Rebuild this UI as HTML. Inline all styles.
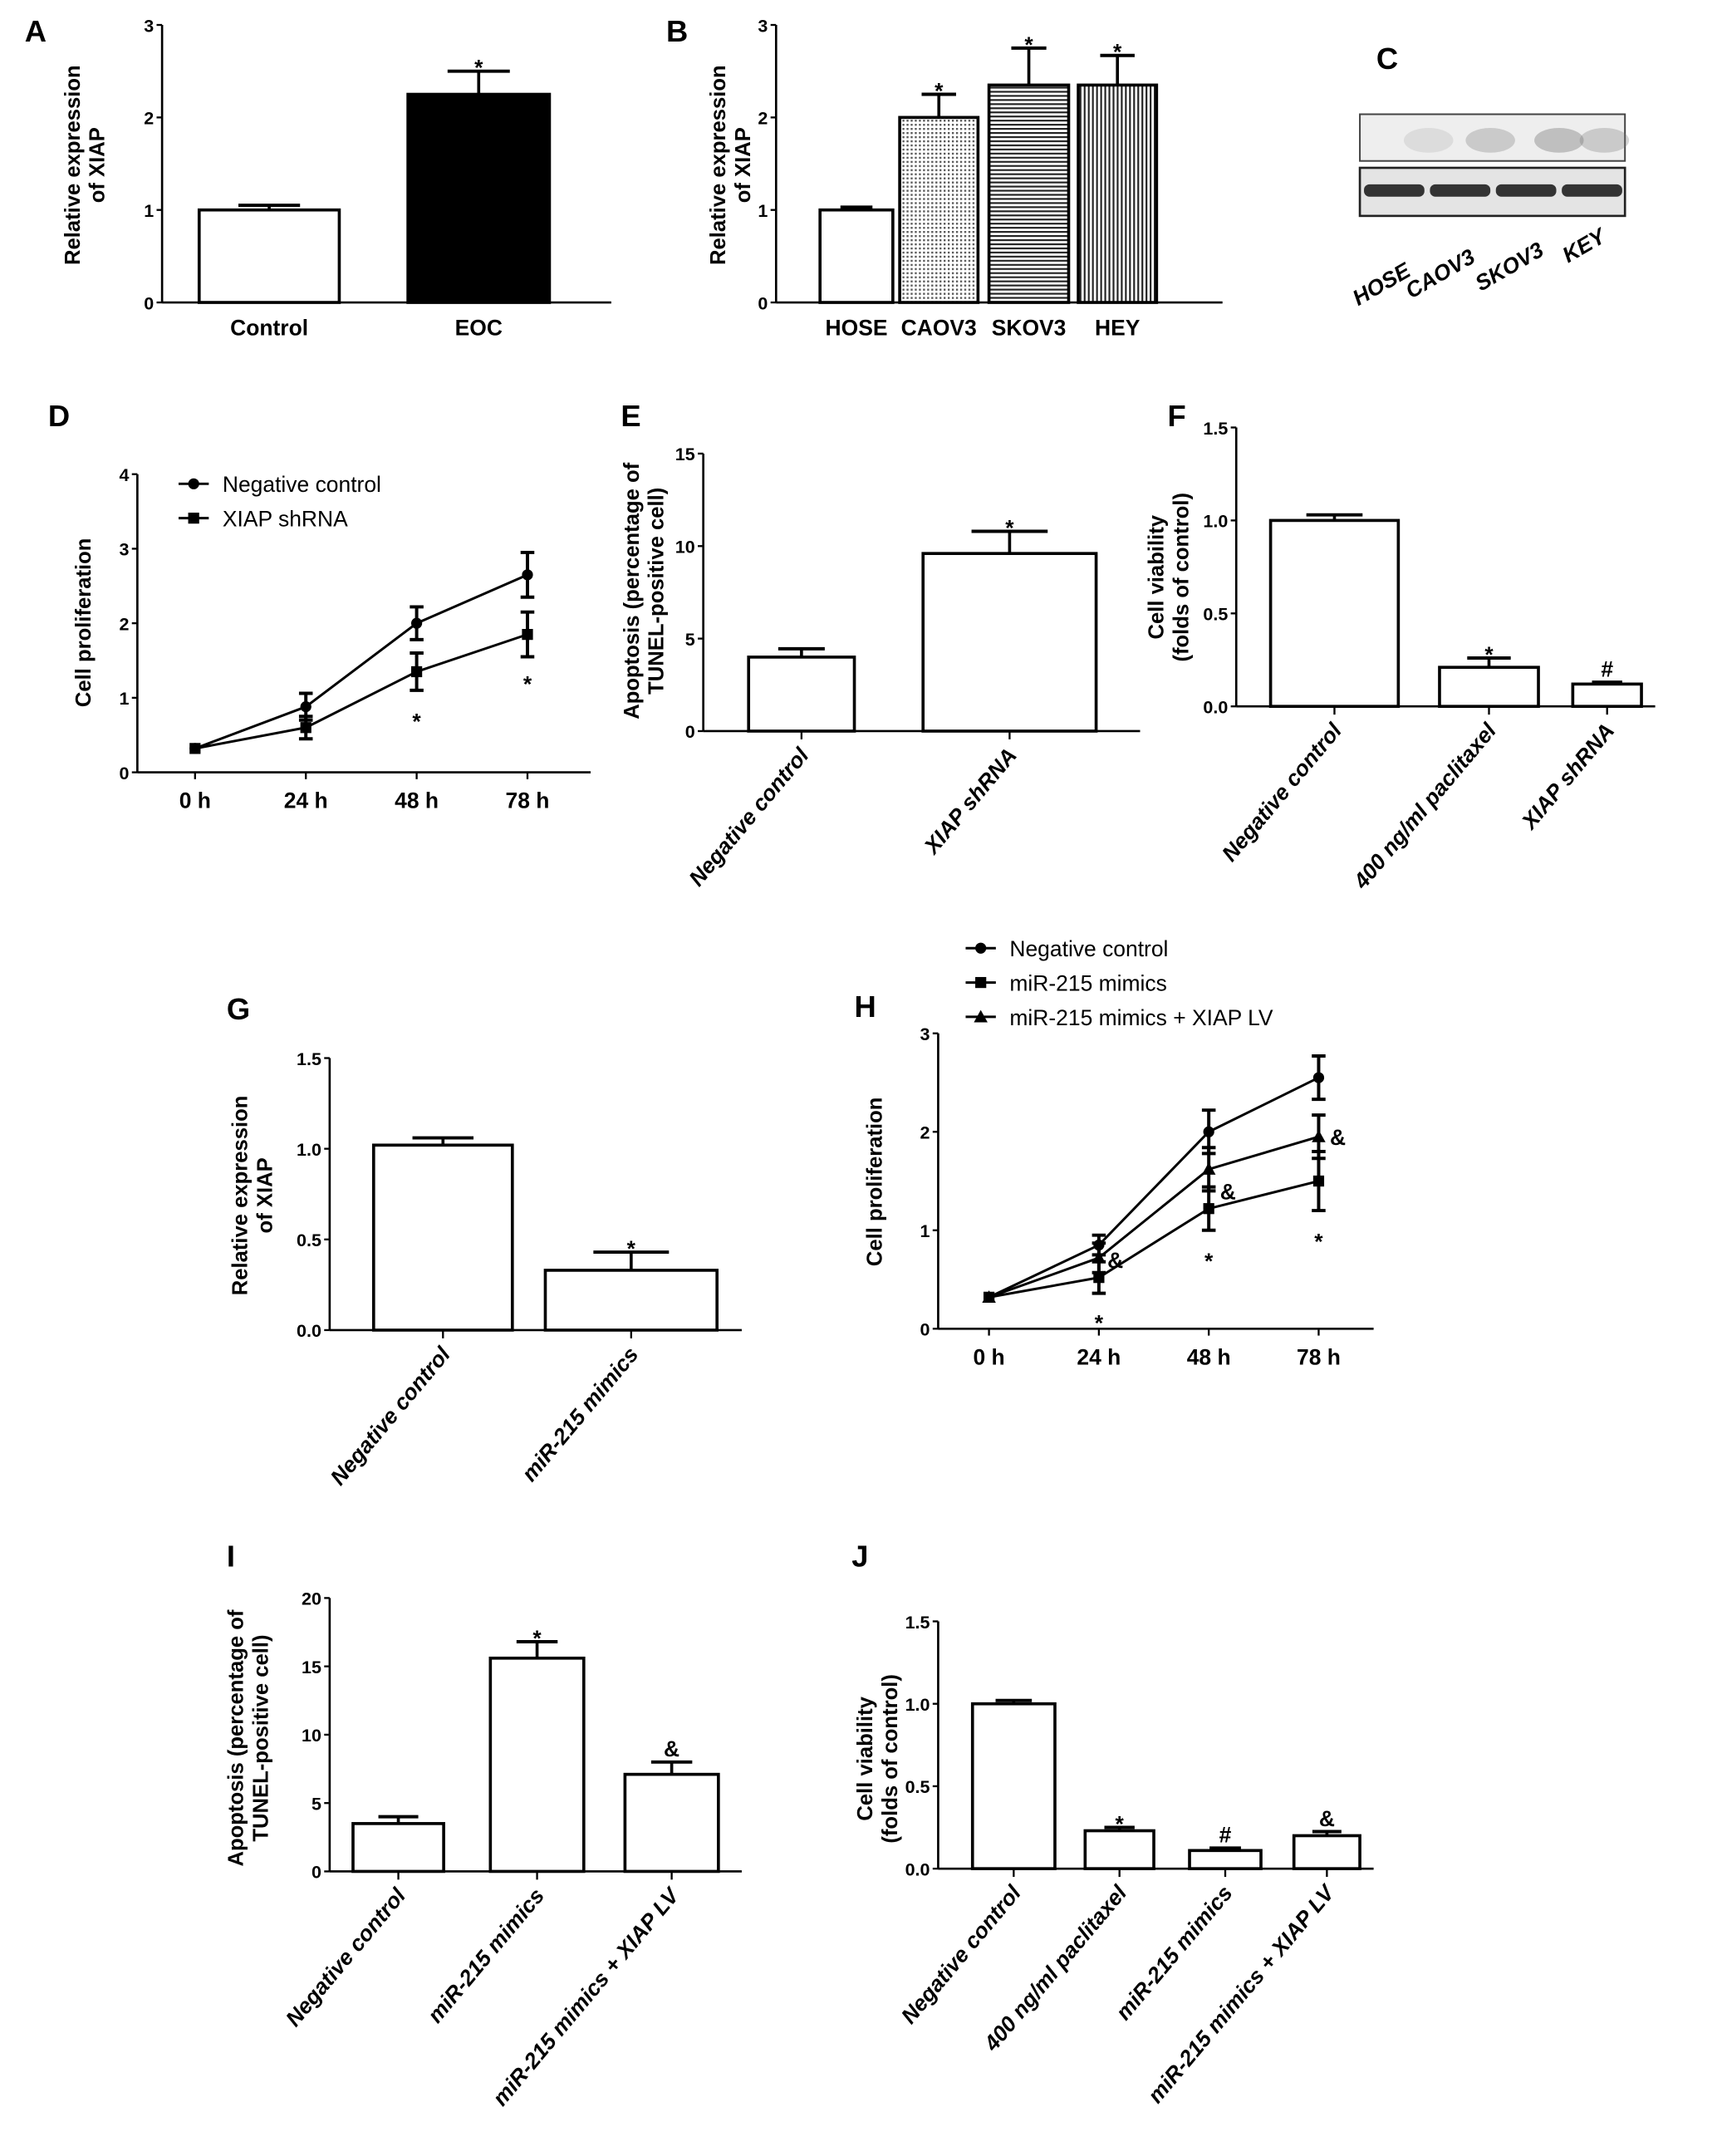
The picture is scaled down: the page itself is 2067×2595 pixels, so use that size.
<!DOCTYPE html>
<html><head><meta charset="utf-8"><style>
html,body{margin:0;padding:0;background:#fff}
svg{display:block}
text{font-family:"Liberation Sans",Arial,sans-serif;fill:#000}
.tk{font-size:13px;font-weight:bold}
.cat{font-size:16px;font-weight:bold}
.ttl{font-size:15.5px;font-weight:bold}
.pl{font-size:22px;font-weight:bold}
</style></head><body>
<svg id="fig" width="2067" height="2595" viewBox="0 0 1250 1569" xmlns="http://www.w3.org/2000/svg">
<defs>
<pattern id="dots" width="3" height="3" patternUnits="userSpaceOnUse"><rect width="3" height="3" fill="#fff"/><rect width="1.4" height="1.4" fill="#555"/></pattern>
<pattern id="hl" width="4" height="3" patternUnits="userSpaceOnUse"><rect width="4" height="3" fill="#fff"/><rect width="4" height="1.3" fill="#222"/></pattern>
<pattern id="vl" width="3" height="4" patternUnits="userSpaceOnUse"><rect width="3" height="4" fill="#fff"/><rect width="1.3" height="4" fill="#222"/></pattern>
</defs>
</svg>
<script>
// ---- data ----
const aCats=["Control","EOC"], aVals=[1.0,2.25], aErr=[0.05,0.25], aMarks=["","*"];
const bCats=["HOSE","CAOV3","SKOV3","HEY"], bVals=[1.0,2.0,2.35,2.35], bErr=[0.03,0.25,0.4,0.32], bMarks=["","*","*","*"];
const timeCats=["0 h","24 h","48 h","78 h"];
const dNC=[0.32,0.88,2.0,2.65], dNCerr=[0.03,0.18,0.22,0.3];
const dSh=[0.32,0.6,1.35,1.85], dSherr=[0.03,0.15,0.25,0.3];
const eCats=["Negative control","XIAP shRNA"], eVals=[4.0,9.6], eErr=[0.45,1.2], eMarks=["","*"];
const fCats=["Negative control","400 ng/ml paclitaxel","XIAP shRNA"], fVals=[1.0,0.21,0.12], fErr=[0.03,0.05,0.01], fMarks=["","*","#"];
const gCats=["Negative control","miR-215 mimics"], gVals=[1.02,0.33], gErr=[0.04,0.1], gMarks=["","*"];
const hNC=[0.32,0.85,2.0,2.55], hNCerr=[0.03,0.1,0.22,0.22];
const hMi=[0.32,0.52,1.22,1.5], hMierr=[0.03,0.16,0.22,0.3];
const hLV=[0.32,0.72,1.62,1.95], hLVerr=[0.03,0.15,0.22,0.22];
const iCats=["Negative control","miR-215 mimics","miR-215 mimics + XIAP LV"], iVals=[3.5,15.6,7.1], iErr=[0.5,1.2,0.9], iMarks=["","*","&"];
const jCats=["Negative control","400 ng/ml paclitaxel","miR-215 mimics","miR-215 mimics + XIAP LV"], jVals=[1.0,0.23,0.11,0.2], jErr=[0.02,0.02,0.015,0.025], jMarks=["","*","#","&"];

const svg=document.getElementById('fig');
const NS="http://www.w3.org/2000/svg";
function mk(tag,attrs,parent){const e=document.createElementNS(NS,tag);for(const k in attrs)e.setAttribute(k,attrs[k]);(parent||svg).appendChild(e);return e;}
function txt(s,attrs,parent){const e=mk('text',attrs,parent);e.textContent=s;return e;}

function axes(g,o){
  const y=v=>o.yB-(v/o.max)*(o.yB-o.yT);
  let l=mk('line',{x1:o.x0,y1:o.yT,x2:o.x0,y2:o.yB,stroke:'#000','stroke-width':1.6},g);
  
  
  l=mk('line',{x1:o.x0,y1:o.yB,x2:o.xE,y2:o.yB,stroke:'#000','stroke-width':1.6},g);
  
  
  o.ticks.forEach(t=>{
    mk('line',{x1:o.x0-4,y1:y(t),x2:o.x0,y2:y(t),stroke:'#000','stroke-width':1.4},g);
    const tt=txt(o.fmt(t),{x:o.x0-6,y:y(t)+5,'text-anchor':'end',class:'tk','font-size':o.tfs||13},g);
    
    
  });
  o.title.forEach((s,i)=>{
    const tx=o.tx+i*18;
    const t=txt(s,{x:tx,y:o.ty,'text-anchor':'middle',class:'ttl',transform:`rotate(-90 ${tx} ${o.ty})`},g);
    
    
  });
  const p=txt(o.letter,{x:o.lx,y:o.ly,class:'pl'},g);
  
  
  return y;
}

function barChart(name,o,cats,vals,errs,marks,fills){
  const g=mk('g',{});
  
  
  const y=axes(g,o);
  cats.forEach((c,i)=>{
    const L=o.bl[i],R=o.br[i],cx=(L+R)/2;
    const r=mk('rect',{x:L,y:y(vals[i]),width:R-L,height:o.yB-y(vals[i]),fill:fills[i],stroke:'#000','stroke-width':2.2},g);
    
    
    const ye=y(vals[i]+errs[i]);
    mk('line',{x1:cx,y1:y(vals[i]),x2:cx,y2:ye,stroke:'#000','stroke-width':2.2},g);
    mk('line',{x1:cx-(R-L)*0.22,y1:ye,x2:cx+(R-L)*0.22,y2:ye,stroke:'#000','stroke-width':2.4},g);
    if(marks[i]){const m=txt(marks[i],{x:cx,y:marks[i]=='*'?ye+3:ye-4,'text-anchor':'middle',class:'cat','font-size':marks[i]=='*'?24:18},g);
      
      }
    let lab;
    if(o.rot){
      mk('line',{x1:cx,y1:o.yB,x2:cx,y2:o.yB+6,stroke:'#000','stroke-width':1.4},g);
      lab=txt(c,{x:cx+6,y:o.yB+18,'text-anchor':'end',class:'cat','font-style':'italic','font-size':o.cfs||16,transform:`rotate(${o.rot} ${cx+6} ${o.yB+18})`},g);
    } else {
      lab=txt(c,{x:cx,y:o.yB+24,'text-anchor':'middle',class:'cat','font-size':o.cfs||16},g);
    }
    
    
  });
}

function lineChart(name,o,series,errs,markers,stars){
  const g=mk('g',{});
  
  
  const y=axes(g,o);
  const x=i=>o.px[0]+i*(o.px[1]-o.px[0])/(timeCats.length-1);
  timeCats.forEach((c,i)=>{
    mk('line',{x1:x(i),y1:o.yB,x2:x(i),y2:o.yB+5,stroke:'#000','stroke-width':1.4},g);
    const t=txt(c,{x:x(i),y:o.yB+26,'text-anchor':'middle',class:'cat','font-size':18},g);
    
    
  });
  series.forEach((s,k)=>{
    const pl=mk('polyline',{points:s.map((v,i)=>x(i)+','+y(v)).join(' '),fill:'none',stroke:'#000','stroke-width':1.8},g);
    
    
    s.forEach((v,i)=>{
      const e=errs[k][i];
      if(e>0.05){
        mk('line',{x1:x(i),y1:y(v-e),x2:x(i),y2:y(v+e),stroke:'#000','stroke-width':2.4},g);
        mk('line',{x1:x(i)-5,y1:y(v+e),x2:x(i)+5,y2:y(v+e),stroke:'#000','stroke-width':2.4},g);
        mk('line',{x1:x(i)-5,y1:y(v-e),x2:x(i)+5,y2:y(v-e),stroke:'#000','stroke-width':2.4},g);
      }
      drawMarker(g,markers[k],x(i),y(v));
    });
  });
  stars.forEach(st=>{
    const m=txt(st[2],{x:x(st[0])+(st[3]||0),y:y(st[1])+(st[4]||0),'text-anchor':'middle',class:'cat','font-size':st[2]=='*'?24:16},g);
    
    
  });
  return g;
}
function drawMarker(g,type,cx,cy){
  let m;
  if(type=='c')m=mk('circle',{cx:cx,cy:cy,r:4,fill:'#000'},g);
  else if(type=='s')m=mk('rect',{x:cx-4,y:cy-4,width:8,height:8,fill:'#000'},g);
  else m=mk('polygon',{points:`${cx},${cy-5} ${cx-5},${cy+4} ${cx+5},${cy+4}`,fill:'#000'},g);
  
  
}
function legend(g,x,y0,dy,labels,markers){
  labels.forEach((s,i)=>{
    const yy=y0+i*dy;
    mk('line',{x1:x,y1:yy,x2:x+22,y2:yy,stroke:'#000','stroke-width':1.8},g);
    drawMarker(g,markers[i],x+11,yy);
    const t=txt(s,{x:x+32,y:yy+6,'font-size':16},g);
    
    
  });
}

// A
barChart('panel-a',{x0:118,yT:18,yB:220,xE:445,max:3,ticks:[0,1,2,3],fmt:t=>t,tfs:12,title:['Relative expression','of XIAP'],tx:58,ty:120,letter:'A',lx:18,ly:30,bl:[145,297],br:[247,400],cfs:18},aCats,aVals,aErr,aMarks,['#fff','#000']);
// B
barChart('panel-b',{x0:565,yT:18,yB:220,xE:890,max:3,ticks:[0,1,2,3],fmt:t=>t,tfs:12,title:['Relative expression','of XIAP'],tx:528,ty:120,letter:'B',lx:485,ly:30,bl:[597,655,720,785],br:[650,712,778,842],cfs:15},bCats,bVals,bErr,bMarks,['#fff','url(#dots)','url(#hl)','url(#vl)']);
// C blot
(function(){
  const g=mk('g',{});
  
  
  const p=txt('C',{x:1002,y:50,class:'pl'},g);
  
  
  const b1=mk('rect',{x:990,y:83,width:193,height:34,fill:'#eeeeee',stroke:'#444','stroke-width':1.2},g);
  
  
  [[1040,0.15],[1085,0.3],[1135,0.4],[1168,0.3]].forEach(b=>mk('ellipse',{cx:b[0],cy:102,rx:18,ry:9,fill:'#777',opacity:b[1]},g));
  const b2=mk('rect',{x:990,y:122,width:193,height:35,fill:'#e4e4e4',stroke:'#222','stroke-width':1.6},g);
  
  
  [1015,1063,1111,1159].forEach(cx=>mk('rect',{x:cx-22,y:134,width:44,height:9,rx:4,fill:'#333'},g));
  ['HOSE','CAOV3','SKOV3','KEY'].forEach((s,i)=>{
    const xx=[1028,1075,1125,1170][i], yy=[200,190,185,175][i];
    const t=txt(s,{x:xx,y:yy,'text-anchor':'end',class:'cat','font-style':'italic','font-size':18,transform:`rotate(-30 ${xx} ${yy})`},g);
    
    
  });
})();
// D
{const g=lineChart('panel-d',{x0:100,yT:345,yB:562,xE:430,max:4,ticks:[0,1,2,3,4],fmt:t=>t,title:['Cell proliferation'],tx:66,ty:453,letter:'D',lx:35,ly:310,px:[142,384]},[dNC,dSh],[dNCerr,dSherr],['c','s'],[[2,0.95,'*',0,20],[3,1.45,'*',0,20]]);
legend(g,130,352,25,['Negative control','XIAP shRNA'],['c','s']);}
// E
barChart('panel-e',{x0:512,yT:330,yB:532,xE:830,max:15,ticks:[0,5,10,15],fmt:t=>t,tfs:12,title:['Apoptosis (percentage of','TUNEL-positive cell)'],tx:465,ty:430,letter:'E',lx:452,ly:310,bl:[545,672],br:[622,798],rot:-50,cfs:17},eCats,eVals,eErr,eMarks,['#fff','#fff']);
// F
barChart('panel-f',{x0:900,yT:311,yB:514,xE:1205,max:1.5,ticks:[0,0.5,1,1.5],fmt:t=>t.toFixed(1),tfs:12,title:['Cell viability','(folds of control)'],tx:847,ty:420,letter:'F',lx:850,ly:310,bl:[925,1048,1145],br:[1018,1120,1195],rot:-50,cfs:16},fCats,fVals,fErr,fMarks,['#fff','#fff','#fff']);
// G
barChart('panel-g',{x0:240,yT:770,yB:968,xE:540,max:1.5,ticks:[0,0.5,1,1.5],fmt:t=>t.toFixed(1),tfs:15,title:['Relative expression','of XIAP'],tx:180,ty:870,letter:'G',lx:165,ly:742,bl:[272,397],br:[373,522],rot:-50,cfs:17},gCats,gVals,gErr,gMarks,['#fff','#fff']);
// H
{const g=lineChart('panel-h',{x0:683,yT:752,yB:967,xE:1000,max:3,ticks:[0,1,2,3],fmt:t=>t,title:['Cell proliferation'],tx:642,ty:860,letter:'H',lx:622,ly:740,px:[720,960]},[hNC,hMi,hLV],[hNCerr,hMierr,hLVerr],['c','s','t'],[[1,0.37,'*',0,28],[2,1.0,'*',0,28],[3,1.2,'*',0,28],[1,0.7,'&',12,6],[2,1.4,'&',14,6],[3,1.95,'&',14,6]]);
legend(g,703,690,25,['Negative control','miR-215 mimics','miR-215 mimics + XIAP LV'],['c','s','t']);}
// I
barChart('panel-i',{x0:240,yT:1163,yB:1362,xE:540,max:20,ticks:[0,5,10,15,20],fmt:t=>t,tfs:15,title:['Apoptosis (percentage of','TUNEL-positive cell)'],tx:177,ty:1265,letter:'I',lx:165,ly:1140,bl:[257,357,455],br:[323,425,523],rot:-50,cfs:16},iCats,iVals,iErr,iMarks,['#fff','#fff','#fff']);
// J
barChart('panel-j',{x0:683,yT:1180,yB:1360,xE:1000,max:1.5,ticks:[0,0.5,1,1.5],fmt:t=>t.toFixed(1),tfs:15,title:['Cell viability','(folds of control)'],tx:635,ty:1280,letter:'J',lx:620,ly:1140,bl:[708,790,866,942],br:[768,840,918,990],rot:-50,cfs:16},jCats,jVals,jErr,jMarks,['#fff','#fff','#fff','#fff']);
</script>
</body></html>
